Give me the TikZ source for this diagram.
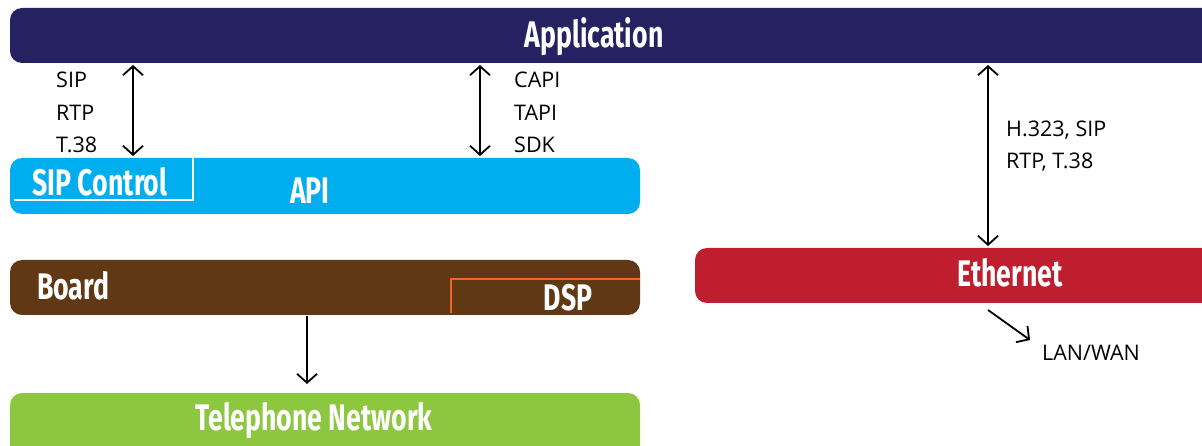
\documentclass[tikz,border=0pt]{standalone}
\usepackage{fontspec}
\setmainfont{Open Sans}
\newfontfamily\boxfont{Fira Sans}
\usetikzlibrary{arrows.meta}
\definecolor{appc}{HTML}{262262}
\definecolor{apic}{HTML}{00AEEF}
\definecolor{boardc}{HTML}{603813}
\definecolor{telc}{HTML}{8DC63F}
\definecolor{ethc}{HTML}{BE1E2D}
\definecolor{dspc}{HTML}{F26522}
\newcommand{\bl}[1]{\scalebox{0.72}[1]{\boxfont\fontsize{37}{40}\selectfont\bfseries #1}}
\tikzset{
  layer/.style={rounded corners=12pt, inner sep=0pt, outer sep=0pt},
  blab/.style={text=white, inner sep=0pt},
  slab/.style={font=\fontsize{21.5}{24}\selectfont, inner sep=0pt, anchor=west},
  tip/.style={Straight Barb[length=9pt,width=20pt,line width=1.8pt]},
  conn/.style={line width=1.8pt, {Straight Barb[length=9pt,width=20pt,line width=1.8pt]}-{Straight Barb[length=9pt,width=20pt,line width=1.8pt]}},
  oneway/.style={line width=1.8pt, -{Straight Barb[length=9pt,width=20pt,line width=1.8pt]}}
}
\begin{document}
\begin{tikzpicture}[x=1pt,y=-1pt]
\useasboundingbox (0,0) rectangle (1202,446);
\begin{scope}
\clip (0,0) rectangle (1202,446);
% boxes
\fill[appc, layer] (10,8) rectangle (1230,63);
\fill[apic, layer] (10,158) rectangle (640,214);
\fill[boardc, layer] (10,260) rectangle (640,315);
\fill[telc, layer] (10,393) rectangle (640,470);
\fill[ethc, layer] (695,248) rectangle (1230,303);
\end{scope}
% coordinates for nodes
\node[inner sep=0pt, minimum width=1192pt, minimum height=55pt] (app) at (606,35.5) {};
\node[inner sep=0pt, minimum width=630pt, minimum height=56pt] (api) at (325,186) {};
\node[inner sep=0pt, minimum width=630pt, minimum height=55pt] (board) at (325,287.5) {};
\node[inner sep=0pt, minimum width=630pt, minimum height=53pt] (tel) at (325,419.5) {};
\node[inner sep=0pt, minimum width=507pt, minimum height=55pt] (eth) at (948.5,275.5) {};
% inner outlines
\draw[white, line width=1.6pt] (14,200) -- (193,200) -- (193,158);
\draw[dspc, line width=2pt] (451,313) -- (451,279) -- (640,279);
% labels
\node[blab] (appl) at (594,37) {\bl{Application}};
\node[blab] (sipc) at (100,182) {\bl{SIP Control}};
\node[blab] (apil) at (310,191) {\bl{API}};
\node[blab, anchor=west] (boardl) at (37,286) {\bl{Board}};
\node[blab] (dspl) at (568,298) {\bl{DSP}};
\node[blab] (tell) at (314,421) {\bl{Telephone Network}};
\node[blab] (ethl) at (1010,273) {\bl{Ethernet}};
% connectors
\coordinate (a1t) at (133,65); \coordinate (a1b) at (133,156);
\coordinate (a2t) at (480,65); \coordinate (a2b) at (480,156);
\coordinate (a3t) at (988,65); \coordinate (a3b) at (988,246);
\coordinate (a4t) at (307,316); \coordinate (a4b) at (307,384);
\coordinate (a5t) at (988,310); \coordinate (a5b) at (1030,340);
\draw[conn] (a1t) -- (a1b);
\draw[conn] (a2t) -- (a2b);
\draw[conn] (a3t) -- (a3b);
\draw[oneway] (a4t) -- (a4b);
\draw[oneway] (a5t) -- (a5b);
% small labels
\node[slab] (s1) at (56,80) {SIP};
\node[slab] (s2) at (56,113) {RTP};
\node[slab] (s3) at (56,145) {T.38};
\node[slab] (c1) at (514,80) {CAPI};
\node[slab] (c2) at (514,113) {TAPI};
\node[slab] (c3) at (514,145) {SDK};
\node[slab] (h1) at (1006,130) {H.323, SIP};
\node[slab] (h2) at (1006,162) {RTP, T.38};
\node[slab] (lan) at (1042,353) {LAN/WAN};
\end{tikzpicture}
\end{document}
